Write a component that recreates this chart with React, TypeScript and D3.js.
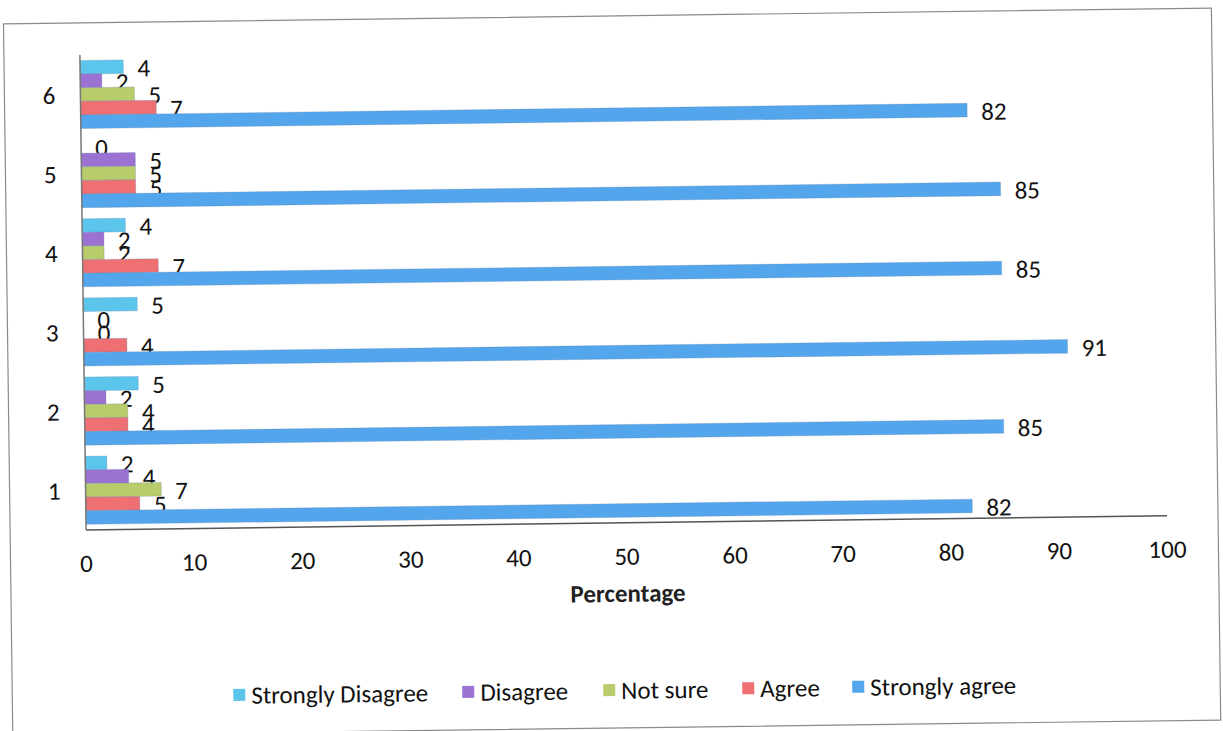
import React from "react";
import * as d3 from "d3";

const categories = ["1", "2", "3", "4", "5", "6"];
const seriesNames = ["Strongly Disagree", "Disagree", "Not sure", "Agree", "Strongly agree"];
const stronglyDisagree = [2, 5, 5, 4, 0, 4];
const disagree = [4, 2, 0, 2, 5, 2];
const notSure = [7, 4, 0, 2, 5, 5];
const agree = [5, 4, 4, 7, 5, 7];
const stronglyAgree = [82, 85, 91, 85, 85, 82];
const xTicks = [0, 10, 20, 30, 40, 50, 60, 70, 80, 90, 100];
const colors = ["#5cc5ec", "#9b72d2", "#b9cc6b", "#ef7072", "#53a5ec"];

const W = 1223;
const H = 731;
const FONT = "Carlito, Lato, 'Open Sans', sans-serif";

export default function App() {
  const values = [stronglyDisagree, disagree, notSure, agree, stronglyAgree];
  const x = d3.scaleLinear().domain([0, 100]).range([84, 1165]);
  const yTop = 48;
  const yBottom = 523;
  // category 6 at top, 1 at bottom
  const y = d3
    .scaleBand<string>()
    .domain([...categories].reverse())
    .range([yTop, yBottom])
    .paddingInner(0.14)
    .paddingOuter(0.07);
  const inner = d3
    .scaleBand<string>()
    .domain(seriesNames)
    .range([0, y.bandwidth()]);

  const legendX = [229, 458, 599, 738, 848];

  return (
    <svg
      width={W}
      height={H}
      style={{ position: "absolute", left: 0, top: 0, background: "#fff" }}
      fontFamily={FONT}
    >
      <rect x={0} y={0} width={W} height={H} fill="#fff" />
      <g transform="rotate(-0.75, 611, 365)">
        <rect x={8} y={16} width={1208} height={712} fill="none" stroke="#8a8a8a" strokeWidth={1.2} />
        {categories.map((c, ci) =>
          seriesNames.map((s, si) => {
            const v = values[si][ci];
            const by = (y(c) as number) + (inner(s) as number);
            return (
              <g key={c + s}>
                <rect
                  x={x(0)}
                  y={by}
                  width={Math.max(0, x(v) - x(0))}
                  height={inner.bandwidth()}
                  fill={colors[si]}
                  stroke="#5a7fa8"
                  strokeOpacity={0.35}
                  strokeWidth={0.8}
                />
                <text
                  x={x(v) + 14}
                  y={by + inner.bandwidth() / 2 + 1}
                  dy="0.36em"
                  fontSize={25}
                  fill="#111"
                >
                  {v}
                </text>
              </g>
            );
          })
        )}
        {/* y axis */}
        <line x1={x(0)} x2={x(0)} y1={yTop} y2={yBottom} stroke="#777" strokeWidth={1.5} />
        {/* x axis */}
        <line x1={x(0)} x2={x(100)} y1={yBottom} y2={yBottom} stroke="#555" strokeWidth={1.5} />
        {categories.map((c) => (
          <text
            key={"cat" + c}
            x={59}
            y={(y(c) as number) + y.bandwidth() / 2}
            dy="0.36em"
            textAnchor="end"
            fontSize={25}
            fill="#111"
          >
            {c}
          </text>
        ))}
        {xTicks.map((t) => (
          <text
            key={"t" + t}
            x={x(t)}
            y={556}
            dy="0.36em"
            textAnchor="middle"
            fontSize={25}
            fill="#111"
          >
            {t}
          </text>
        ))}
        <text x={625} y={593} dy="0.36em" textAnchor="middle" fontSize={25} fontWeight="bold" fill="#222">
          Percentage
        </text>
        {seriesNames.map((s, i) => (
          <g key={"leg" + s}>
            <rect x={legendX[i]} y={684} width={12} height={12} fill={colors[i]} />
            <text x={legendX[i] + 18} y={690} dy="0.36em" fontSize={25} fill="#111">
              {s}
            </text>
          </g>
        ))}
      </g>
    </svg>
  );
}
